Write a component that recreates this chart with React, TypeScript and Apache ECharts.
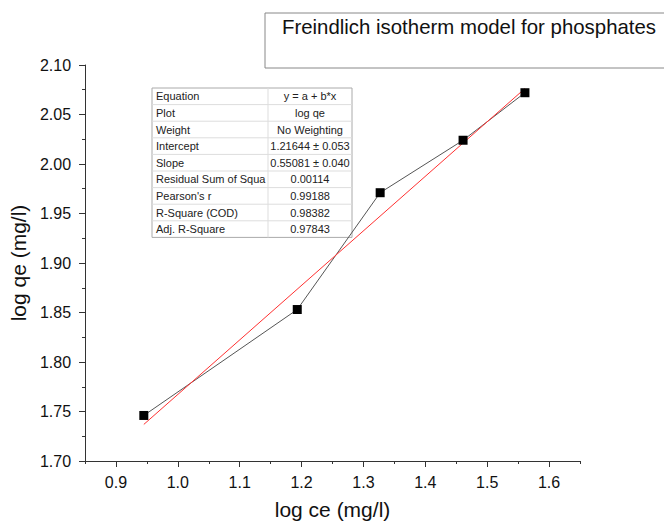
import React, { useEffect, useRef } from "react";
import * as echarts from "echarts";

const xValues = [0.945, 1.193, 1.327, 1.461, 1.561];
const yValues = [1.746, 1.853, 1.971, 2.024, 2.072];
const fitIntercept = 1.21644;
const fitSlope = 0.55081;
const xMajorTicks = [0.9, 1.0, 1.1, 1.2, 1.3, 1.4, 1.5, 1.6];
const xMinorTicks = [0.85, 0.95, 1.05, 1.15, 1.25, 1.35, 1.45, 1.55, 1.65];
const tableLabels = [
  "Equation",
  "Plot",
  "Weight",
  "Intercept",
  "Slope",
  "Residual Sum of Squa",
  "Pearson's r",
  "R-Square (COD)",
  "Adj. R-Square",
];
const tableValues = [
  "y = a + b*x",
  "log qe",
  "No Weighting",
  "1.21644 ± 0.053",
  "0.55081 ± 0.040",
  "0.00114",
  "0.99188",
  "0.98382",
  "0.97843",
];
const titleText = "Freindlich isotherm model for phosphates";

const FONT = "'Liberation Sans', Arial, sans-serif";

export default function App() {
  const ref = useRef<HTMLDivElement>(null);
  useEffect(() => {
    if (!ref.current) return;
    const chart = echarts.init(ref.current, null, { renderer: "svg" });
    const xs = [Math.min(...xValues), Math.max(...xValues)];
    const fit = xs.map((x) => [x, fitIntercept + fitSlope * x]);

    const tX = 152, tY = 88, rowH = 16.6, col1W = 116, col2W = 84;
    const tableEls: any[] = [];
    tableEls.push({
      type: "rect",
      shape: { x: tX, y: tY, width: col1W + col2W, height: rowH * tableLabels.length },
      style: { fill: "#fff", stroke: "#aaa", lineWidth: 1 },
    });
    tableLabels.forEach((lab, i) => {
      if (i > 0) {
        tableEls.push({
          type: "line",
          shape: { x1: tX, y1: tY + rowH * i, x2: tX + col1W + col2W, y2: tY + rowH * i },
          style: { stroke: "#ddd", lineWidth: 1 },
        });
      }
      tableEls.push({
        type: "text",
        x: tX + 4,
        y: tY + rowH * i + rowH / 2,
        style: { text: lab, font: `11px ${FONT}`, fill: "#222", verticalAlign: "middle", align: "left" },
      });
      tableEls.push({
        type: "text",
        x: tX + col1W + col2W / 2,
        y: tY + rowH * i + rowH / 2,
        style: { text: tableValues[i], font: `11px ${FONT}`, fill: "#222", verticalAlign: "middle", align: "center" },
      });
    });
    tableEls.push({
      type: "line",
      shape: { x1: tX + col1W, y1: tY, x2: tX + col1W, y2: tY + rowH * tableLabels.length },
      style: { stroke: "#ddd", lineWidth: 1 },
    });

    chart.setOption({
      animation: false,
      backgroundColor: "#fff",
      textStyle: { fontFamily: FONT },
      grid: { left: 82, top: 65, right: 84, bottom: 62 },
      xAxis: [
        {
          type: "value",
          min: 0.85,
          max: 1.65,
          position: "bottom",
          name: "log ce (mg/l)",
          nameLocation: "middle",
          nameGap: 38,
          nameTextStyle: { fontSize: 21, color: "#111", fontFamily: FONT },
          axisLine: { show: true, onZero: false, lineStyle: { color: "#333", width: 1 } },
          axisTick: { show: true, length: 6, customValues: xMajorTicks, lineStyle: { color: "#333" } },
          axisLabel: {
            customValues: xMajorTicks,
            fontSize: 16,
            color: "#111",
            margin: 13,
            formatter: (v: number) => v.toFixed(1),
          },
          splitLine: { show: false },
        },
        {
          type: "value",
          min: 0.85,
          max: 1.65,
          position: "bottom",
          axisLine: { show: false },
          axisTick: { show: true, length: 3, customValues: xMinorTicks, lineStyle: { color: "#333" } },
          axisLabel: { show: false },
          splitLine: { show: false },
        },
      ],
      yAxis: {
        type: "value",
        min: 1.7,
        max: 2.1,
        interval: 0.05,
        name: "log qe (mg/l)",
        nameLocation: "middle",
        nameGap: 51,
        nameRotate: 90,
        nameTextStyle: { fontSize: 21, color: "#111", fontFamily: FONT },
        axisLine: { show: true, onZero: false, lineStyle: { color: "#333", width: 1 } },
        axisTick: { show: true, length: 6, lineStyle: { color: "#333" } },
        minorTick: { show: true, splitNumber: 2, length: 3, lineStyle: { color: "#333" } },
        axisLabel: {
          fontSize: 16,
          color: "#111",
          margin: 14,
          formatter: (v: number) => v.toFixed(2),
        },
        splitLine: { show: false },
      },
      series: [
        {
          type: "line",
          data: xValues.map((x, i) => [x, yValues[i]]),
          symbol: "none",
          lineStyle: { color: "#555", width: 1 },
          z: 2,
        },
        {
          type: "line",
          data: fit,
          symbol: "none",
          lineStyle: { color: "#ff3030", width: 1 },
          z: 3,
        },
        {
          type: "scatter",
          data: xValues.map((x, i) => [x, yValues[i]]),
          symbol: "rect",
          symbolSize: 9,
          itemStyle: { color: "#000", opacity: 1 },
          z: 4,
        },
      ],
      graphic: [
        {
          type: "rect",
          shape: { x: 265, y: 13, width: 420, height: 55 },
          style: { fill: "#fff", stroke: "#888", lineWidth: 1 },
          z: 10,
        },
        {
          type: "text",
          x: 282,
          y: 17,
          style: { text: titleText, font: `20.4px ${FONT}`, fill: "#111" },
          z: 11,
        },
        { type: "group", children: tableEls, z: 10 },
      ],
    });
    return () => chart.dispose();
  }, []);
  return (
    <div
      ref={ref}
      style={{ position: "fixed", left: 0, top: 0, width: 664, height: 525 }}
    />
  );
}
